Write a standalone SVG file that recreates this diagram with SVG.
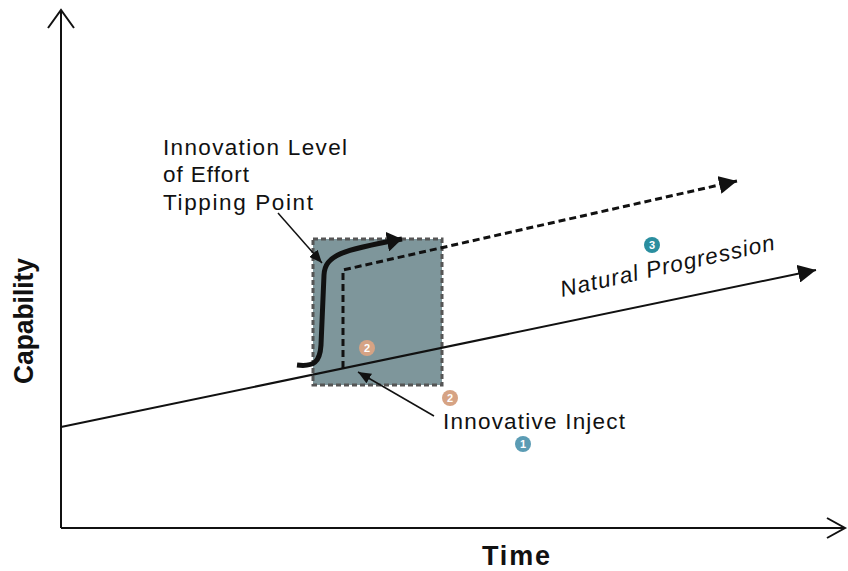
<svg xmlns="http://www.w3.org/2000/svg" width="848" height="571" viewBox="0 0 848 571">
<defs>
<style>
.ax{stroke:#111;stroke-width:2;fill:none}
.ln{stroke:#111;stroke-width:2;fill:none}
.lbl{font-family:"Liberation Sans",Arial,sans-serif;font-size:22.5px;fill:#111}
.axl{font-family:"Liberation Sans",Arial,sans-serif;font-size:27px;font-weight:bold;fill:#111}
.bt{font-family:"Liberation Sans",Arial,sans-serif;font-size:11px;font-weight:bold;fill:#fff;text-anchor:middle}
</style>
<marker id="hBig" markerUnits="userSpaceOnUse" markerWidth="19" markerHeight="18" refX="18" refY="9" orient="auto" viewBox="0 0 19 18">
<path d="M0,0 L18,9 L0,18 z" fill="#111"/>
</marker>
<marker id="hCurve" markerUnits="userSpaceOnUse" markerWidth="16" markerHeight="20" refX="15" refY="10" orient="auto" viewBox="0 0 16 20">
<path d="M0,0 L15,10 L0,20 z" fill="#111"/>
</marker>
<marker id="hSmall" markerUnits="userSpaceOnUse" markerWidth="14" markerHeight="11" refX="13" refY="5.5" orient="auto" viewBox="0 0 14 11">
<path d="M0,0 L13,5.5 L0,11 z" fill="#111"/>
</marker>
</defs>
<rect width="848" height="571" fill="#fff"/>

<g id="axes">
<path class="ax" d="M61,528 L61,10"/>
<path class="ax" d="M48,28 L61,10 L74,28"/>
<path class="ax" d="M61,528 L845,528"/>
<path class="ax" d="M827,518 L845,528 L827,538"/>
<text class="axl" transform="translate(33,321) rotate(-90)" text-anchor="middle" textLength="126" lengthAdjust="spacingAndGlyphs">Capability</text>
<text class="axl" x="516" y="565" text-anchor="middle" textLength="68" lengthAdjust="spacing">Time</text>
</g>

<g id="tipping-box">
<rect x="313" y="239" width="129" height="146" fill="#7e969b" stroke="#555" stroke-width="3" stroke-dasharray="5 3"/>
</g>

<g id="connectors">
<path class="ln" d="M61,427 L816,270" marker-end="url(#hBig)"/>
<path d="M343,368 L343,270 L737,181" fill="none" stroke="#111" stroke-width="3" stroke-dasharray="7 4" marker-end="url(#hBig)"/>
<path d="M297,365 C314,367 320,362 321,345 L324,275 C325,255 342,250 402,239" fill="none" stroke="#111" stroke-width="5" marker-end="url(#hCurve)"/>
<path d="M278,213 L322,263" stroke="#111" stroke-width="1.5" fill="none" marker-end="url(#hSmall)"/>
<path d="M434,416 L358,372" stroke="#111" stroke-width="1.5" fill="none" marker-end="url(#hSmall)"/>
</g>

<g id="label-tipping">
<text class="lbl" x="163" y="155" textLength="184" lengthAdjust="spacing">Innovation Level</text>
<text class="lbl" x="163" y="182" textLength="86" lengthAdjust="spacing">of Effort</text>
<text class="lbl" x="163" y="210" textLength="150" lengthAdjust="spacing">Tipping Point</text>
</g>

<g id="label-inject">
<text class="lbl" x="443" y="429" textLength="182" lengthAdjust="spacing">Innovative Inject</text>
</g>

<g id="label-natural">
<text class="lbl" font-style="italic" transform="translate(562,297) rotate(-12.5)" textLength="219" lengthAdjust="spacing">Natural Progression</text>
</g>

<g id="badge-2a"><circle cx="367" cy="348" r="8" fill="#d6a384"/><text class="bt" x="367" y="352">2</text></g>
<g id="badge-2b"><circle cx="450" cy="398" r="8" fill="#d6a384"/><text class="bt" x="450" y="402">2</text></g>
<g id="badge-1"><circle cx="523" cy="444" r="8" fill="#5b9cb4"/><text class="bt" x="523" y="448">1</text></g>
<g id="badge-3"><circle cx="652" cy="245" r="8" fill="#2a8e9f"/><text class="bt" x="652" y="249">3</text></g>
</svg>
